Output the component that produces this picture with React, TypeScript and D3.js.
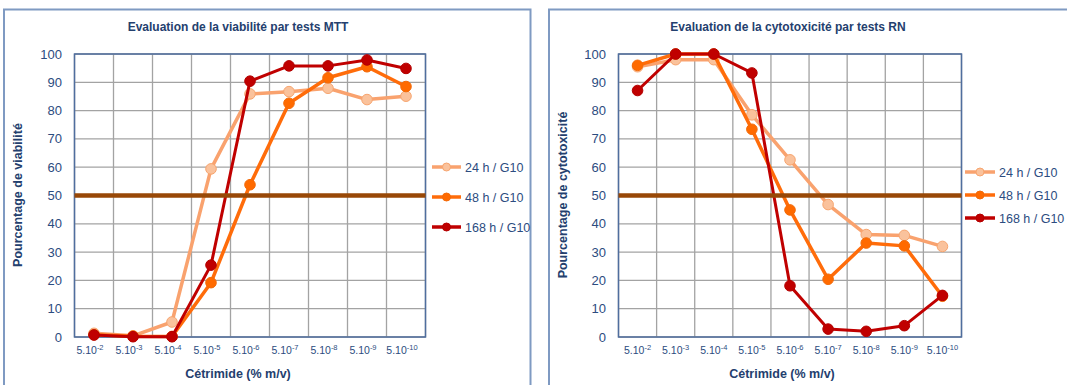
import React from 'react';
import * as d3 from 'd3';

const categories = ['-2', '-3', '-4', '-5', '-6', '-7', '-8', '-9', '-10'];
const seriesNames = ['24 h / G10', '48 h / G10', '168 h / G10'];
const mtt24 = [1.3, 0.4, 5.3, 59.4, 85.9, 86.7, 87.9, 83.9, 85.1];
const mtt48 = [0.8, 0.3, 0.2, 19.2, 53.8, 82.6, 91.6, 95.5, 88.5];
const mtt168 = [0.7, 0.1, 0.1, 25.4, 90.4, 95.8, 95.8, 97.9, 94.9];
const rn24 = [95.5, 98, 98, 78.5, 62.6, 46.8, 36.2, 35.9, 32];
const rn48 = [96, 100, 100, 73.4, 44.9, 20.4, 33.2, 32.2, 14.4];
const rn168 = [87.1, 100, 100, 93.3, 18.1, 2.8, 2, 4, 14.7];
const yTicks = [0, 10, 20, 30, 40, 50, 60, 70, 80, 90, 100];
const threshold = 50;

const FONT = "'Liberation Sans', Arial, sans-serif";
const TEXT = '#2C4C80';
const TITLE = '#24406E';

const styles = [
  { line: '#F9A26E', fill: '#FAC29C', stroke: '#F7A56F', width: 3.5 },
  { line: '#FF6C0A', fill: '#FF6A00', stroke: '#F36A08', width: 3.5 },
  { line: '#C00000', fill: '#C00000', stroke: '#B40000', width: 3 },
];

type ChartProps = {
  panelX: number;
  panelW: number;
  plotX0: number;
  plotX1: number;
  title: string;
  titleX: number;
  yTitle: string;
  yTitleX: number;
  xTitleX: number;
  yLabelRight: number;
  labelOffset: number;
  series: number[][];
  legendX0: number;
  legendX1: number;
  legendTextX: number;
  legendYs: number[];
};

function Chart(p: ChartProps) {
  const top = 54;
  const bottom = 337;
  const x = d3.scaleBand<string>().domain(categories).range([p.plotX0, p.plotX1]);
  const y = d3.scaleLinear().domain([0, 100]).range([bottom, top]);
  const cx = (c: string) => (x(c) as number) + x.bandwidth() / 2;
  const line = d3
    .line<number>()
    .x((_, i) => cx(categories[i]))
    .y((v) => y(v));
  const gridXs = categories.map((c) => x(c) as number).concat([p.plotX1]);
  return (
    <g fontFamily={FONT}>
      <rect x={p.panelX} y={9.5} width={p.panelW} height={420} fill="#fff" stroke="#7F9AC2" strokeWidth={2} />
      <text x={p.titleX} y={31} textAnchor="middle" fontWeight="bold" fontSize={12} fill={TITLE}>
        {p.title}
      </text>
      {yTicks.map((t) => (
        <line key={'h' + t} x1={p.plotX0} x2={p.plotX1} y1={y(t)} y2={y(t)} stroke="#A3A3A3" strokeWidth={1.3} />
      ))}
      {gridXs.map((gx, i) => (
        <line key={'v' + i} x1={gx} x2={gx} y1={top} y2={bottom} stroke="#A3A3A3" strokeWidth={1.3} />
      ))}
      <rect x={p.plotX0} y={top} width={p.plotX1 - p.plotX0} height={bottom - top} fill="none" stroke="#4F6E9E" strokeWidth={1.5} />
      {yTicks.map((t) => (
        <text key={'yl' + t} x={p.yLabelRight} y={y(t) + 4.5} textAnchor="end" fontSize={13} fill={TEXT}>
          {t}
        </text>
      ))}
      {categories.map((c) => (
        <text key={'xl' + c} x={cx(c) + p.labelOffset} y={354} textAnchor="middle" fontSize={10.5} fill={TEXT}>
          5.10
          <tspan dy={-4} fontSize={7.5}>
            {c}
          </tspan>
        </text>
      ))}
      <text x={p.xTitleX} y={378} textAnchor="middle" fontWeight="bold" fontSize={12.5} fill={TITLE}>
        Cétrimide (% m/v)
      </text>
      <text
        transform={`translate(${p.yTitleX},${195}) rotate(-90)`}
        textAnchor="middle"
        fontWeight="bold"
        fontSize={12.5}
        fill={TITLE}
      >
        {p.yTitle}
      </text>
      {p.series.map((s, si) => (
        <g key={'s' + si}>
          <path d={line(s) || ''} fill="none" stroke={styles[si].line} strokeWidth={styles[si].width} strokeLinejoin="round" />
          {s.map((v, i) => (
            <circle key={i} cx={cx(categories[i])} cy={y(v)} r={5.3} fill={styles[si].fill} stroke={styles[si].stroke} strokeWidth={1} />
          ))}
        </g>
      ))}
      <line x1={p.plotX0} x2={p.plotX1} y1={y(threshold)} y2={y(threshold)} stroke="#984807" strokeWidth={4.5} />
      {seriesNames.map((n, si) => (
        <g key={'lg' + si}>
          <line x1={p.legendX0} x2={p.legendX1} y1={p.legendYs[si]} y2={p.legendYs[si]} stroke={styles[si].line} strokeWidth={3.5} />
          <circle cx={(p.legendX0 + p.legendX1) / 2} cy={p.legendYs[si]} r={4} fill={styles[si].fill} stroke={styles[si].stroke} strokeWidth={1} />
          <text x={p.legendTextX} y={p.legendYs[si] + 4.5} fontSize={12.5} fill={TEXT}>
            {n}
          </text>
        </g>
      ))}
    </g>
  );
}

export default function App() {
  return (
    <svg width={1067} height={385} style={{ position: 'absolute', left: 0, top: 0 }}>
      <rect width={1067} height={385} fill="#fff" />
      <Chart
        panelX={4}
        panelW={526.5}
        plotX0={74.5}
        plotX1={425.5}
        title="Evaluation de la viabilité par tests MTT"
        titleX={238}
        yTitle="Pourcentage de viabilité"
        yTitleX={22}
        xTitleX={238}
        yLabelRight={62}
        labelOffset={-4}
        series={[mtt24, mtt48, mtt168]}
        legendX0={432}
        legendX1={461}
        legendTextX={465}
        legendYs={[167, 197, 227]}
      />
      <Chart
        panelX={549}
        panelW={530}
        plotX0={618.5}
        plotX1={961.5}
        title="Evaluation de la cytotoxicité par tests RN"
        titleX={788}
        yTitle="Pourcentage de cytotoxicité"
        yTitleX={567}
        xTitleX={782}
        yLabelRight={606}
        labelOffset={0}
        series={[rn24, rn48, rn168]}
        legendX0={965}
        legendX1={995}
        legendTextX={999}
        legendYs={[172, 195, 218]}
      />
    </svg>
  );
}
